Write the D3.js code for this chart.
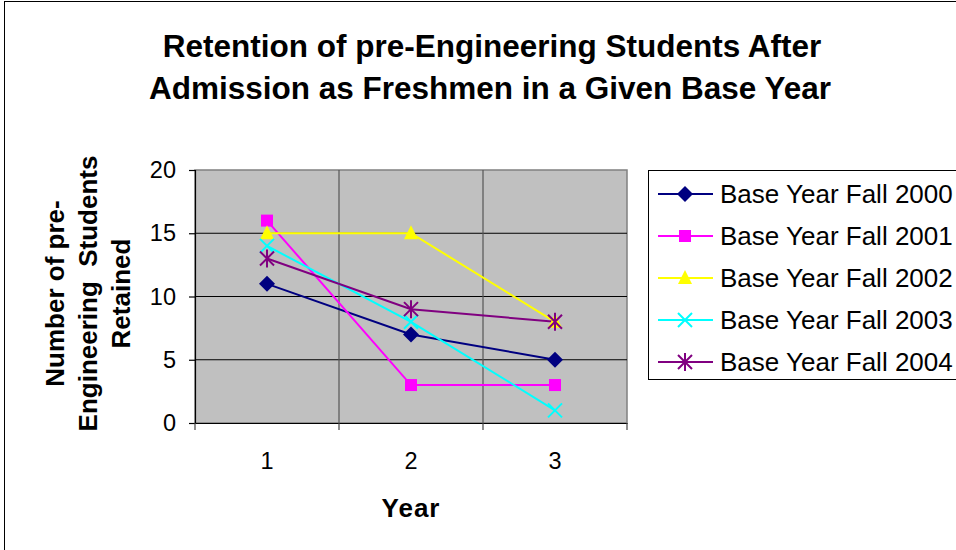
<!DOCTYPE html>
<html>
<head>
<meta charset="utf-8">
<script src="https://cdnjs.cloudflare.com/ajax/libs/d3/7.8.5/d3.min.js"></script>
<style>
  body { margin: 0; background: #fff; }
  text { font-family: "Liberation Sans", Arial, sans-serif; }
</style>
</head>
<body>
<div id="chart"></div>
<script>
var svgWidth = 956;
var svgHeight = 550;

// data
var years = ["1", "2", "3"];
var seriesNames = ["Base Year Fall 2000", "Base Year Fall 2001", "Base Year Fall 2002",
                   "Base Year Fall 2003", "Base Year Fall 2004"];
var fall2000 = [11, 7, 5];
var fall2001 = [16, 3, 3];
var fall2002 = [15, 15, 8];
var fall2003 = [14, 8, 1];
var fall2004 = [13, 9, 8];
var yTicks = [0, 5, 10, 15, 20];

var seriesValues = [fall2000, fall2001, fall2002, fall2003, fall2004];
var colors = ["#000080", "#ff00ff", "#ffff00", "#00ffff", "#800080"];
var shapes = ["diamond", "square", "triangle", "x", "star"];

var margin = { top: 170, left: 195 };
var width = 432;
var height = 253;

var svg = d3.select("#chart")
  .append("svg")
  .attr("width", svgWidth)
  .attr("height", svgHeight);

// outer chart border
svg.append("rect")
  .attr("x", 4.5).attr("y", 1.5)
  .attr("width", 1000).attr("height", 600)
  .attr("fill", "none")
  .attr("stroke", "#000")
  .attr("stroke-width", 1);

// title
var title = svg.append("text")
  .attr("text-anchor", "middle")
  .attr("font-size", 31.5)
  .attr("font-weight", "bold");
title.append("tspan").attr("x", 492).attr("y", 57).text("Retention of pre-Engineering Students After");
title.append("tspan").attr("x", 490).attr("y", 99).text("Admission as Freshmen in a Given Base Year");

var chartGroup = svg.append("g")
  .attr("transform", `translate(${margin.left}, ${margin.top})`);

var xScale = d3.scaleBand().domain(years).range([0, width]);
var yScale = d3.scaleLinear().domain([0, 20]).range([height, 0]);

// plot area
chartGroup.append("rect")
  .attr("width", width).attr("height", height)
  .attr("fill", "#c0c0c0")
  .attr("stroke", "#808080")
  .attr("stroke-width", 1.5);

// horizontal gridlines
chartGroup.selectAll(".hgrid")
  .data(yTicks.filter(d => d > 0 && d < 20))
  .enter().append("line")
  .attr("x1", 0).attr("x2", width)
  .attr("y1", d => yScale(d)).attr("y2", d => yScale(d))
  .attr("stroke", "#000").attr("stroke-width", 1.2);

// vertical gridlines at category boundaries
chartGroup.selectAll(".vgrid")
  .data(years.slice(1))
  .enter().append("line")
  .attr("x1", d => xScale(d)).attr("x2", d => xScale(d))
  .attr("y1", 0).attr("y2", height)
  .attr("stroke", "#555").attr("stroke-width", 1.2);

// y axis
var leftAxis = d3.axisLeft(yScale).tickValues(yTicks).tickSize(6).tickPadding(13);
var yAxis = chartGroup.append("g").call(leftAxis);
yAxis.select(".domain").attr("stroke", "#000").attr("stroke-width", 1.2);
yAxis.selectAll("line").attr("stroke", "#000").attr("stroke-width", 1.2);
yAxis.selectAll("text").attr("font-size", 23.5).attr("fill", "#000")
  .attr("font-family", "Liberation Sans, Arial, sans-serif");

// x axis
var bottomAxis = d3.axisBottom(xScale).tickSize(0).tickPadding(29);
var xAxis = chartGroup.append("g")
  .attr("transform", `translate(0, ${height})`)
  .call(bottomAxis);
xAxis.select(".domain").attr("stroke", "#000").attr("stroke-width", 1.2);
xAxis.selectAll("text").attr("font-size", 23.5).attr("fill", "#000")
  .attr("font-family", "Liberation Sans, Arial, sans-serif");
// tick marks between categories
xAxis.selectAll(".btick")
  .data(years.concat(["end"]))
  .enter().append("line")
  .attr("x1", (d, i) => i * xScale.bandwidth())
  .attr("x2", (d, i) => i * xScale.bandwidth())
  .attr("y1", 0).attr("y2", 7)
  .attr("stroke", "#444").attr("stroke-width", 1.2);

// axis titles
chartGroup.append("text")
  .attr("x", width / 2).attr("y", height + 94)
  .attr("text-anchor", "middle")
  .attr("font-size", 26).attr("font-weight", "bold")
  .attr("letter-spacing", 1)
  .text("Year");

var yTitle = chartGroup.append("text")
  .attr("transform", `translate(-98, ${height / 2 - 3}) rotate(-90)`)
  .attr("text-anchor", "middle")
  .attr("font-size", 26).attr("font-weight", "bold")
  .style("white-space", "pre");
yTitle.append("tspan").attr("x", 0).attr("y", -33).text("Number of pre-");
yTitle.append("tspan").attr("x", 0).attr("y", 0).text("Engineering  Students");
yTitle.append("tspan").attr("x", 0).attr("y", 33).text("Retained");

// marker drawing
function drawMarker(g, shape, color) {
  if (shape === "diamond") {
    g.append("path").attr("d", "M0,-8L8,0L0,8L-8,0Z").attr("fill", color);
  } else if (shape === "square") {
    g.append("rect").attr("x", -6).attr("y", -6).attr("width", 12).attr("height", 12).attr("fill", color);
  } else if (shape === "triangle") {
    g.append("path").attr("d", "M0,-8L7,6L-7,6Z").attr("fill", color);
  } else if (shape === "x") {
    g.append("path").attr("d", "M-7,-7L7,7M-7,7L7,-7").attr("stroke", color).attr("stroke-width", 2);
  } else {
    g.append("path").attr("d", "M-7,-7L7,7M-7,7L7,-7M0,-9L0,9").attr("stroke", color).attr("stroke-width", 2);
  }
}

var line = d3.line()
  .x((d, i) => xScale(years[i]) + xScale.bandwidth() / 2)
  .y(d => yScale(d));

seriesValues.forEach(function(values, s) {
  chartGroup.append("path")
    .attr("d", line(values))
    .attr("fill", "none")
    .attr("stroke", colors[s])
    .attr("stroke-width", 2);
});
seriesValues.forEach(function(values, s) {
  values.forEach(function(v, i) {
    var g = chartGroup.append("g")
      .attr("transform", `translate(${xScale(years[i]) + xScale.bandwidth() / 2}, ${yScale(v)})`);
    drawMarker(g, shapes[s], colors[s]);
  });
});

// legend
var legend = svg.append("g").attr("transform", "translate(648, 170)");
legend.append("rect")
  .attr("x", 0.5).attr("y", 0.5)
  .attr("width", 400).attr("height", 209)
  .attr("fill", "#fff").attr("stroke", "#000").attr("stroke-width", 1);

seriesNames.forEach(function(name, s) {
  var row = legend.append("g").attr("transform", `translate(0, ${24 + s * 42})`);
  row.append("line")
    .attr("x1", 10).attr("x2", 65).attr("y1", 0).attr("y2", 0)
    .attr("stroke", colors[s]).attr("stroke-width", 2);
  var m = row.append("g").attr("transform", "translate(37, 0)");
  drawMarker(m, shapes[s], colors[s]);
  row.append("text")
    .attr("x", 72).attr("y", 9)
    .attr("font-size", 26)
    .text(name);
});
</script>
</body>
</html>
